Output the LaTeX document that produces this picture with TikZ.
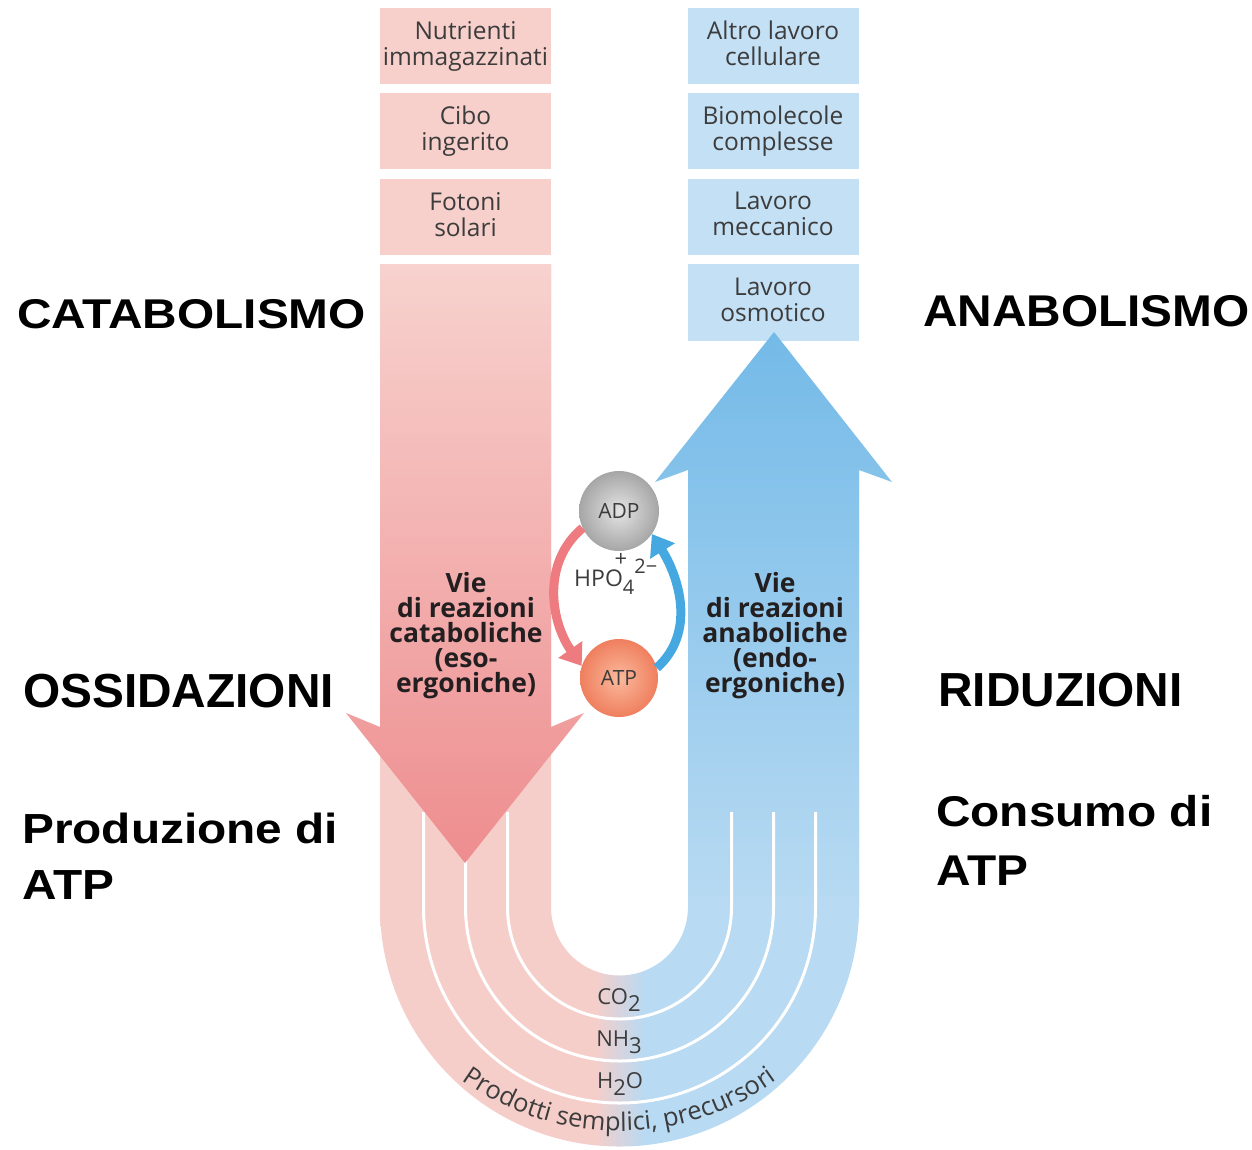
\documentclass[tikz,border=0pt]{standalone}
\usepackage{fontspec}
\setmainfont{Open Sans}
\newfontfamily\labfont{Liberation Sans}
\usetikzlibrary{arrows.meta,decorations.text}
\definecolor{pinkbox}{HTML}{F7D0CC}
\definecolor{bandpink}{HTML}{F6CEC9}
\definecolor{bluebox}{HTML}{C4E0F5}
\definecolor{bandblue}{HTML}{B8DAF2}
\definecolor{redtop}{HTML}{F7D2CE}
\definecolor{redbottom}{HTML}{EE8D8F}
\definecolor{bluetop}{HTML}{74BAE8}
\definecolor{redcyc}{HTML}{EE7B80}
\definecolor{bluecyc}{HTML}{45A8E0}
\definecolor{txtgray}{HTML}{3C3C3C}
\definecolor{vietxt}{HTML}{231F20}
\definecolor{adpin}{HTML}{E4E4E4}
\definecolor{adpout}{HTML}{A6A6A6}
\definecolor{atpin}{HTML}{FAB99C}
\definecolor{atpout}{HTML}{EF7F5E}
\pgfdeclarehorizontalshading{ushade}{100bp}{color(0bp)=(bandpink); color(47.4bp)=(bandpink); color(52.6bp)=(bandblue); color(100bp)=(bandblue)}
\tikzset{
 lbox/.style={rectangle, fill=pinkbox, minimum width=171pt, minimum height=76pt, inner sep=0pt, align=center, text=txtgray, font=\fontsize{24.5}{26}\selectfont, execute at begin node=\vphantom{bg}, execute at end node=\vphantom{bg}},
 rbox/.style={lbox, fill=bluebox},
 vietext/.style={align=center, text=vietxt, font=\bfseries\fontsize{26.5}{25}\selectfont, inner sep=0pt},
 biglab/.style={anchor=base west, inner sep=0pt, font=\labfont\bfseries\fontsize{47.8}{50}\selectfont},
 wline/.style={draw=white, line width=3pt},
 cyc/.style={line width=9pt, -{Triangle[length=20pt,width=28pt]}},
 chem/.style={text=txtgray, font=\fontsize{22}{22}\selectfont, inner sep=0pt},
 ball/.style={circle, inner sep=0pt, text=txtgray, font=\fontsize{21}{21}\selectfont},
}
\begin{document}
\begin{tikzpicture}[x=1pt,y=1pt]
\path[use as bounding box, fill=white] (0,0) rectangle (1252,-1149);
\coordinate (uc) at (619.5,-907);
\coordinate (tc) at (619.5,-861);
% U band
\path[shading=ushade] (380,-264) -- (380,-907) arc[start angle=180,end angle=360,radius=239.5] -- (859,-470) -- (688,-470) -- (688,-907) arc[start angle=0,end angle=-180,radius=68.5] -- (551,-264) -- cycle;
% boxes
\node[lbox] (nutr) at (465.5,-46) {Nutrienti\\immagazzinati};
\node[lbox] (cibo) at (465.5,-131) {Cibo\\ingerito};
\node[lbox] (foto) at (465.5,-217) {Fotoni\\solari};
\node[rbox] (altro) at (773,-46) {Altro lavoro\\cellulare};
\node[rbox] (biom) at (773,-131) {Biomolecole\\complesse};
\node[rbox] (mecc) at (773,-217) {Lavoro\\meccanico};
\node[rbox, minimum height=77pt] (osm) at (773,-302.5) {Lavoro\\osmotico};
% blue arrow
\shade[top color=bluetop, bottom color=bandblue] (688,-907) -- (688,-470) -- (655,-482) -- (774,-332) -- (892,-482) -- (859,-470) -- (859,-907) -- cycle;
% white lines
\foreach \r in {112,154,196}
  \draw[wline] (619.5-\r,-812) -- (619.5-\r,-907) arc[start angle=180,end angle=360,radius=\r] -- (619.5+\r,-812);
% red arrow
\shade[top color=redtop, bottom color=redbottom] (380,-264) -- (551,-264) -- (551,-727) -- (584,-713) -- (465,-863) -- (346,-713) -- (380,-727) -- cycle;
% pathway texts
\node[vietext] (catv) at (466,-636) {Vie\\di reazioni\\cataboliche\\(eso-\\ergoniche)};
\node[vietext] (anav) at (775,-636) {Vie\\di reazioni\\anaboliche\\(endo-\\ergoniche)};
% ADP / ATP cycle
\node[ball, minimum size=80pt, inner color=adpin, outer color=adpout] (adp) at (619,-511) {ADP};
\node[ball, minimum size=78pt, inner color=atpin, outer color=atpout] (atp) at (619,-678) {ATP};
\draw[cyc, redcyc] (adp.205) to[out=220,in=125] (atp.162);
\draw[cyc, bluecyc] (atp.15) to[out=42,in=-58] (adp.325);
\node[chem] (plus) at (621,-560) {+};
\node[chem, anchor=base west, font=\fontsize{23}{23}\selectfont] (hpo) at (574,-586) {HPO\raisebox{-0.38em}{\fontsize{20}{20}\selectfont 4}\raisebox{0.55em}{\fontsize{20}{20}\selectfont 2−}};
% simple products
\node[chem] (co2) at (619,-1000) {CO\raisebox{-0.3em}{2}};
\node[chem] (nh3) at (619,-1042) {NH\raisebox{-0.3em}{3}};
\node[chem] (h2o) at (620,-1084) {H\raisebox{-0.3em}{2}O};
\path[decorate, decoration={text along path, text align=center, text color=txtgray, text={|\fontsize{25.5}{25.5}\selectfont|Prodotti semplici, precursori}}] ([shift={(222:270)}]tc) arc[start angle=222,end angle=318,radius=270];
% big labels
\node[biglab, yscale=0.87] (catab) at (17,-328) {CATABOLISMO};
\node[biglab, yscale=0.93] (anab) at (923,-326) {ANABOLISMO};
\node[biglab] (ossid) at (23,-707) {OSSIDAZIONI};
\node[biglab] (riduz) at (938,-706) {RIDUZIONI};
\node[biglab, yscale=0.88] (prod1) at (22,-843) {Produzione di};
\node[biglab, yscale=0.88] (prod2) at (22,-899) {ATP};
\node[biglab, yscale=0.9] (cons1) at (936,-826) {Consumo di};
\node[biglab, yscale=0.9] (cons2) at (936,-885) {ATP};
\end{tikzpicture}
\end{document}
